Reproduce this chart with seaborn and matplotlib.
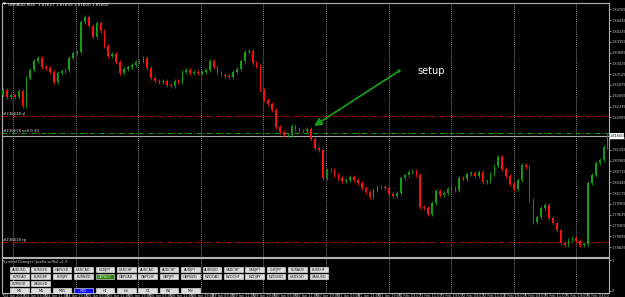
import numpy as np
import pandas as pd
import matplotlib
matplotlib.use("Agg")
import matplotlib.pyplot as plt
import seaborn as sns
from matplotlib.patches import Rectangle, Polygon

# ---------------- data ----------------
first_open = 1.8262
closes = [
    1.82750, 1.82575, 1.82625, 1.82575, 1.82725, 1.82350, 1.83050, 1.83250, 1.83475, 1.83550,
    1.83325, 1.83300, 1.83200, 1.82950, 1.83175, 1.83225, 1.83250, 1.83550, 1.83675, 1.83700,
    1.84450, 1.84575, 1.84350, 1.84075, 1.84425, 1.84225, 1.83850, 1.83600, 1.83650, 1.83450,
    1.83175, 1.83275, 1.83325, 1.83375, 1.83450, 1.83475, 1.83550, 1.83300, 1.83050, 1.82975,
    1.82950, 1.82975, 1.82875, 1.82850, 1.82975, 1.82950, 1.83200, 1.83250, 1.83175, 1.83200,
    1.83175, 1.83200, 1.83250, 1.83475, 1.83325, 1.83175, 1.83125, 1.83100, 1.83075, 1.83200,
    1.83275, 1.83475, 1.83700, 1.83725, 1.83425, 1.83350, 1.82750, 1.82500, 1.82400, 1.82250,
    1.81825, 1.81700, 1.81625, 1.81625, 1.81850, 1.81775, 1.81725, 1.81725, 1.81775, 1.81525,
    1.81300, 1.81250, 1.80550, 1.80750, 1.80750, 1.80625, 1.80550, 1.80475, 1.80500, 1.80575,
    1.80500, 1.80425, 1.80300, 1.80200, 1.80075, 1.80250, 1.80325, 1.80325, 1.80300, 1.80150,
    1.80100, 1.80175, 1.80550, 1.80625, 1.80700, 1.80725, 1.80625, 1.79825, 1.79800, 1.79650,
    1.79925, 1.80225, 1.80125, 1.80175, 1.80275, 1.80300, 1.80250, 1.80550, 1.80525, 1.80650,
    1.80675, 1.80600, 1.80700, 1.80450, 1.80475, 1.80650, 1.80850, 1.81075, 1.80775, 1.80600,
    1.80400, 1.80275, 1.80500, 1.80875, 1.80825, 1.80000, 1.79450, 1.79575, 1.79800, 1.79875,
    1.79550, 1.79425, 1.79250, 1.78925, 1.78875, 1.79000, 1.79050, 1.78975, 1.78875, 1.78900,
    1.80425, 1.80625, 1.80925, 1.81000, 1.81325, 1.81600,
]
sl_price = 1.82100
entry_price = 1.81663
tp_price = 1.78950
price_ticks = [1.78825, 1.79095, 1.79365, 1.79635, 1.79905, 1.80175, 1.80445, 1.80715,
               1.80985, 1.81255, 1.81525, 1.82065, 1.82335, 1.82605, 1.82875,
               1.83145, 1.83415, 1.83685, 1.83955, 1.84225, 1.84495, 1.84765]
time_labels = ["22 Jan 2018", "24 Jan 03:00", "24 Jan 11:00", "24 Jan 19:00", "25 Jan 03:00",
               "25 Jan 11:00", "25 Jan 19:00", "26 Jan 03:00", "26 Jan 11:00", "26 Jan 19:00",
               "29 Jan 03:00", "29 Jan 11:00", "29 Jan 19:00", "30 Jan 03:00", "30 Jan 11:00",
               "30 Jan 19:00", "31 Jan 03:00", "31 Jan 11:00", "31 Jan 19:00", "1 Feb 03:00",
               "1 Feb 11:00", "1 Feb 19:00", "2 Feb 03:00", "2 Feb 11:00", "2 Feb 19:00",
               "5 Feb 03:00", "5 Feb 11:00", "5 Feb 19:00", "6 Feb 03:00"]
symbols_row1 = ["AUDUSD", "EURUSD", "GBPUSD", "USDCAD", "USDJPY", "USDCHF", "AUDCAD", "AUDCHF",
                "AUDJPY", "AUDNZD", "CADCHF", "CADJPY", "CHFJPY", "EURAUD", "EURCHF"]
symbols_row2 = ["EURCAD", "EURGBP", "EURJPY", "EURNZD", "GBPAUD", "GBPCAD", "GBPCHF", "GBPJPY",
                "GBPNZD", "NZDCAD", "NZDCHF", "NZDJPY", "NZDUSD", "USDSGD", "XAGUSD"]
symbols_row3 = ["EURSGD", "XAUUSD"]
timeframes = ["M1", "M5", "M15", "M30", "H1", "H4", "D1", "W1", "MN"]
active_symbol = "GBPAUD"
active_tf = "M30"
title_text = "GBPAUD,M30  1.81627 1.81699 1.81600 1.81600"

# ---------------- styling ----------------
sns.set_theme(style="dark", rc={"axes.facecolor": "black", "figure.facecolor": "black",
                                "axes.edgecolor": "#9a9a9a", "axes.grid": False})
plt.rcParams["font.family"] = ["DejaVu Sans"]

W, H = 625, 297
fig = plt.figure(figsize=(W / 100, H / 100), dpi=100)
fig.patch.set_facecolor("black")

def fr(x0, y0, x1, y1):
    return [x0 / W, 1 - y1 / H, (x1 - x0) / W, (y1 - y0) / H]

ax = fig.add_axes(fr(2, 3, 609, 257))
sub = fig.add_axes(fr(2, 258, 609, 293))

df = pd.DataFrame({"close": closes})
df["open"] = [first_open] + closes[:-1]
df["x"] = np.arange(len(df))
df["up"] = df["close"] >= df["open"]
UP, DN = "#12a012", "#ff1010"

diff = df["close"] - df["open"]
body_h = diff.where(diff.abs() > 0.00008, 0.00008)
cols = np.where(df["up"], UP, DN)
hi = np.maximum(df["open"], df["close"]) + 0.0004
lo = np.minimum(df["open"], df["close"]) - 0.0004
ax.vlines(df["x"], lo, hi, colors=cols, lw=0.6, zorder=3)
ax.bar(df["x"], body_h, bottom=df["open"], width=0.42, color=cols, lw=0, zorder=4)

xl = (-0.26, 155.4)
ax.set_xlim(*xl)
ax.set_ylim(1.78575, 1.84925)
sub.set_xlim(*xl)
sub.set_ylim(0, 1)

# vertical dotted grid
grid_x = [2.56 + 16.05 * k for k in range(10)]
for a in (ax, sub):
    for gx in grid_x:
        a.axvline(gx, color="#b0b0b0", lw=0.6, ls=(0, (1, 1.5)), zorder=1)
    a.set_xticks([])
    for s in a.spines.values():
        s.set_color("#b0b0b0")
        s.set_linewidth(0.8)

# horizontal order lines
dd = (0, (5, 2, 1, 2))
ax.axhline(sl_price, color="#b00000", lw=0.7, ls=dd, zorder=2)
ax.axhline(entry_price, color="#10a010", lw=0.7, ls=dd, zorder=2)
ax.axhline(tp_price, color="#b00000", lw=0.7, ls=dd, zorder=2)
ax.axhline(closes[-1], color="#a8a8a8", lw=0.8, zorder=2)

# right price axis
ax.yaxis.tick_right()
ax.set_yticks(price_ticks)
ax.set_yticklabels([f"{v:.5f}" for v in price_ticks])
ax.tick_params(axis="y", colors="#c8c8c8", labelsize=2.5, length=1.5, width=0.5, pad=0.6)
sub.yaxis.tick_right()
sub.set_yticks([0.93, 0.07])
sub.set_yticklabels(["1", "0"])
sub.tick_params(axis="y", colors="#c8c8c8", labelsize=2.5, length=1.5, width=0.5, pad=0.6)

# overlay in pixel coordinates
ov = fig.add_axes([0, 0, 1, 1])
ov.set_xlim(0, W)
ov.set_ylim(H, 0)
ov.axis("off")
ov.patch.set_alpha(0)

# current price box
cy = (1.85 - closes[-1]) * 4000
ov.add_patch(Rectangle((610, cy - 3), 13.5, 6, facecolor="white", edgecolor="none", zorder=5))
ov.text(616.7, cy, f"{closes[-1]:.5f}", fontsize=2.5, color="black", ha="center", va="center", zorder=6)

# title
ov.add_patch(Polygon([[3, 2.5], [6, 2.5], [4.5, 5]], closed=True, facecolor="white", edgecolor="none"))
ov.text(8, 4.5, title_text, fontsize=3.0, color="white", ha="left", va="center")

# order labels
ov.text(3, 114, "#236618 sl", fontsize=2.8, color="#e0e0e0", ha="left", va="center")
ov.text(3, 131.5, "#236618 sell 0.10", fontsize=2.8, color="#e0e0e0", ha="left", va="center")
ov.text(3, 240, "#236618 tp", fontsize=2.8, color="#e0e0e0", ha="left", va="center")

# setup annotation
ov.text(417, 71, "setup", fontsize=7, color="white", ha="left", va="center")
ov.annotate("", xy=(314, 126), xytext=(399, 71),
            arrowprops=dict(arrowstyle="-|>", color="#1a9a1a", lw=1.3, mutation_scale=11,
                            shrinkA=0, shrinkB=0))
ov.add_patch(plt.Circle((399, 71), 1.0, color="#1a9a1a"))

# sub window caption + buttons
ov.text(3, 262.5, "Symbol Changer (prefix-suffix) v1.0", fontsize=2.6, color="#d0d0d0",
        ha="left", va="center")
rows = [symbols_row1, symbols_row2, symbols_row3, timeframes]
row_y = [267, 274, 281, 288]
for r, (names, ry) in enumerate(zip(rows, row_y)):
    for k, name in enumerate(names):
        bx = 10 + 21.4 * k
        fc, tc = "#dcdcdc", "#111111"
        if name == active_symbol:
            fc, tc = "#2a7f00", "#cfe8c0"
        if r == 3 and name == active_tf:
            fc, tc = "#1010ff", "#d0d0ff"
        ov.add_patch(Rectangle((bx, ry), 18.6, 5.4, facecolor=fc, edgecolor="#f4f4f4",
                               lw=0.4, zorder=5))
        ov.text(bx + 9.3, ry + 2.8, name, fontsize=2.4, color=tc, ha="center", va="center", zorder=6)

# time axis labels
for k, lab in enumerate(time_labels):
    tx = 3 + 20.86 * k
    ov.plot([tx, tx], [293, 295], color="#c0c0c0", lw=0.5)
    ov.text(tx + 0.8, 295.6, lab, fontsize=2.5, color="#c8c8c8", ha="left", va="center")

fig.savefig("out.png", dpi=100, facecolor="black")
